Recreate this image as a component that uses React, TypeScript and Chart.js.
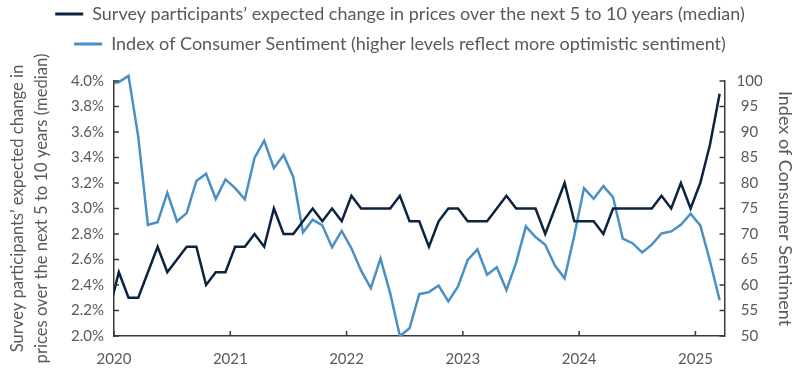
import React, { useEffect, useRef } from 'react';
import { Chart, registerables } from 'chart.js';

Chart.register(...registerables);

// Monthly data, Dec 2019 through Mar 2025 (Dec 2019 only feeds the clipped lead-in segment)
const expectedChange = [
  2.2,
  2.5, 2.3, 2.3, 2.5, 2.7, 2.5, 2.6, 2.7, 2.7, 2.4, 2.5, 2.5,
  2.7, 2.7, 2.8, 2.7, 3.0, 2.8, 2.8, 2.9, 3.0, 2.9, 3.0, 2.9,
  3.1, 3.0, 3.0, 3.0, 3.0, 3.1, 2.9, 2.9, 2.7, 2.9, 3.0, 3.0,
  2.9, 2.9, 2.9, 3.0, 3.1, 3.0, 3.0, 3.0, 2.8, 3.0, 3.2, 2.9,
  2.9, 2.9, 2.8, 3.0, 3.0, 3.0, 3.0, 3.0, 3.1, 3.0, 3.2, 3.0,
  3.2, 3.5, 3.9,
];

const consumerSentiment = [
  99.3,
  99.8, 101.0, 89.1, 71.8, 72.3, 78.1, 72.5, 74.1, 80.4, 81.8, 76.9, 80.7,
  79.0, 76.8, 84.9, 88.3, 82.9, 85.5, 81.2, 70.3, 72.8, 71.7, 67.4, 70.6,
  67.2, 62.8, 59.4, 65.2, 58.4, 50.0, 51.5, 58.2, 58.6, 59.9, 56.8, 59.7,
  64.9, 67.0, 62.0, 63.5, 59.0, 64.4, 71.5, 69.4, 67.9, 63.8, 61.3, 69.7,
  79.0, 76.9, 79.4, 77.2, 69.1, 68.2, 66.4, 67.9, 70.1, 70.5, 71.8, 74.0,
  71.7, 64.7, 57.0,
];

const yearLabels = ['2020', '2021', '2022', '2023', '2024', '2025'];
const leftTickValues = [2.0, 2.2, 2.4, 2.6, 2.8, 3.0, 3.2, 3.4, 3.6, 3.8, 4.0];
const rightTickValues = [50, 55, 60, 65, 70, 75, 80, 85, 90, 95, 100];

const seriesNames = [
  'Survey participants\u2019 expected change in prices over the next 5 to 10 years (median)',
  'Index of Consumer Sentiment (higher levels reflect more optimistic sentiment)',
];
const leftAxisTitle = [
  'Survey participants\u2019 expected change in',
  'prices over the next 5 to 10 years (median)',
];
const rightAxisTitle = 'Index of Consumer Sentiment';

// x is measured in months from 1 Jan 2020; each monthly value sits mid-month
const FIRST_MONTH_OFFSET = -1; // first value is Dec 2019
const toPoints = (vals: number[]) =>
  vals.map((v, i) => ({ x: i + FIRST_MONTH_OFFSET + 0.5, y: v }));

const DARK = '#0c2340';
const LIGHT = '#4a90c4';
const TEXT = '#595959';
const AXIS = '#3a3a3a';
const FONT = 'Lato';

const inwardTicks = {
  id: 'inwardTicks',
  afterDraw(chart: any) {
    const { ctx, chartArea: a, scales } = chart;
    const len = 5;
    ctx.save();
    ctx.strokeStyle = AXIS;
    ctx.lineWidth = 1.5;
    ctx.beginPath();
    scales.y.ticks.forEach((_: any, i: number) => {
      const y = scales.y.getPixelForTick(i);
      ctx.moveTo(a.left, y);
      ctx.lineTo(a.left + len, y);
    });
    scales.y1.ticks.forEach((_: any, i: number) => {
      const y = scales.y1.getPixelForTick(i);
      ctx.moveTo(a.right, y);
      ctx.lineTo(a.right - len, y);
    });
    scales.x.ticks.forEach((_: any, i: number) => {
      const x = scales.x.getPixelForTick(i);
      ctx.moveTo(x, a.bottom);
      ctx.lineTo(x, a.bottom - len);
    });
    ctx.stroke();
    ctx.restore();
  },
};

export default function App() {
  const ref = useRef<HTMLCanvasElement>(null);

  useEffect(() => {
    if (!ref.current) return;
    Chart.defaults.font.family = FONT;
    Chart.defaults.color = TEXT;
    const chart = new Chart(ref.current, {
      type: 'line',
      data: {
        datasets: [
          {
            label: seriesNames[0],
            data: toPoints(expectedChange),
            borderColor: DARK,
            backgroundColor: DARK,
            borderWidth: 2.5,
            pointRadius: 0,
            tension: 0,
            yAxisID: 'y',
            clip: { left: 0, top: false, right: 0, bottom: 0 } as any,
          },
          {
            label: seriesNames[1],
            data: toPoints(consumerSentiment),
            borderColor: LIGHT,
            backgroundColor: LIGHT,
            borderWidth: 2.5,
            pointRadius: 0,
            tension: 0,
            yAxisID: 'y1',
            clip: { left: 0, top: false, right: 0, bottom: 0 } as any,
          },
        ],
      },
      options: {
        responsive: false,
        animation: false,
        layout: { padding: { top: -7, left: 0, right: 0, bottom: 0 } },
        plugins: {
          tooltip: { enabled: false },
          legend: {
            position: 'top',
            labels: {
              font: { size: 18, family: FONT },
              color: TEXT,
              boxWidth: 28,
              boxHeight: 3,
              padding: 12,
              generateLabels: (c: any) =>
                Chart.defaults.plugins.legend.labels
                  .generateLabels(c)
                  .map((l: any) => ({ ...l, lineWidth: 0 })),
            },
          },
          title: {
            display: true,
            text: '',
            weight: 500,
            font: { size: 1, lineHeight: 1 },
            padding: { top: 0, bottom: 17 },
          } as any,
        },
        scales: {
          x: {
            type: 'linear',
            min: 0,
            max: 63,
            afterBuildTicks: (s: any) => {
              s.ticks = yearLabels.map((_, i) => ({ value: i * 12 }));
            },
            afterFit: (s: any) => {
              s.height = 40;
            },
            ticks: {
              autoSkip: false,
              maxRotation: 0,
              padding: 14,
              color: TEXT,
              font: { size: 15, family: FONT },
              callback: (v: any) => yearLabels[Math.round(v / 12)],
            },
            grid: { display: false, drawTicks: false },
            border: { display: true, color: AXIS, width: 1.5 },
          },
          y: {
            type: 'linear',
            position: 'left',
            min: 2,
            max: 4,
            afterBuildTicks: (s: any) => {
              s.ticks = leftTickValues.map((v) => ({ value: v }));
            },
            afterFit: (s: any) => {
              s.width = 114;
            },
            ticks: {
              padding: 10,
              color: TEXT,
              font: { size: 15, family: FONT },
              callback: (v: any) => Number(v).toFixed(1) + '%',
            },
            grid: { display: false, drawTicks: false },
            border: { display: true, color: AXIS, width: 1.5 },
            title: {
              display: true,
              text: leftAxisTitle,
              color: TEXT,
              font: { size: 16.6, family: FONT, lineHeight: 1.4 },
              padding: { top: 6.4, bottom: 0 },
            },
          },
          y1: {
            type: 'linear',
            position: 'right',
            min: 50,
            max: 100,
            afterBuildTicks: (s: any) => {
              s.ticks = rightTickValues.map((v) => ({ value: v }));
            },
            afterFit: (s: any) => {
              s.width = 75.5;
            },
            ticks: {
              padding: 12,
              crossAlign: 'center',
              color: TEXT,
              font: { size: 15, family: FONT },
            },
            grid: { display: false, drawTicks: false },
            border: { display: true, color: AXIS, width: 1.5 },
            title: {
              display: true,
              text: rightAxisTitle,
              color: TEXT,
              font: { size: 18, family: FONT },
              padding: { top: 4, bottom: 0 },
            },
          },
        },
      },
      plugins: [inwardTicks],
    });
    return () => chart.destroy();
  }, []);

  return (
    <div style={{ position: 'absolute', left: 0, top: 0, width: 800, height: 376, background: '#fff' }}>
      <canvas ref={ref} width={800} height={376} />
    </div>
  );
}
